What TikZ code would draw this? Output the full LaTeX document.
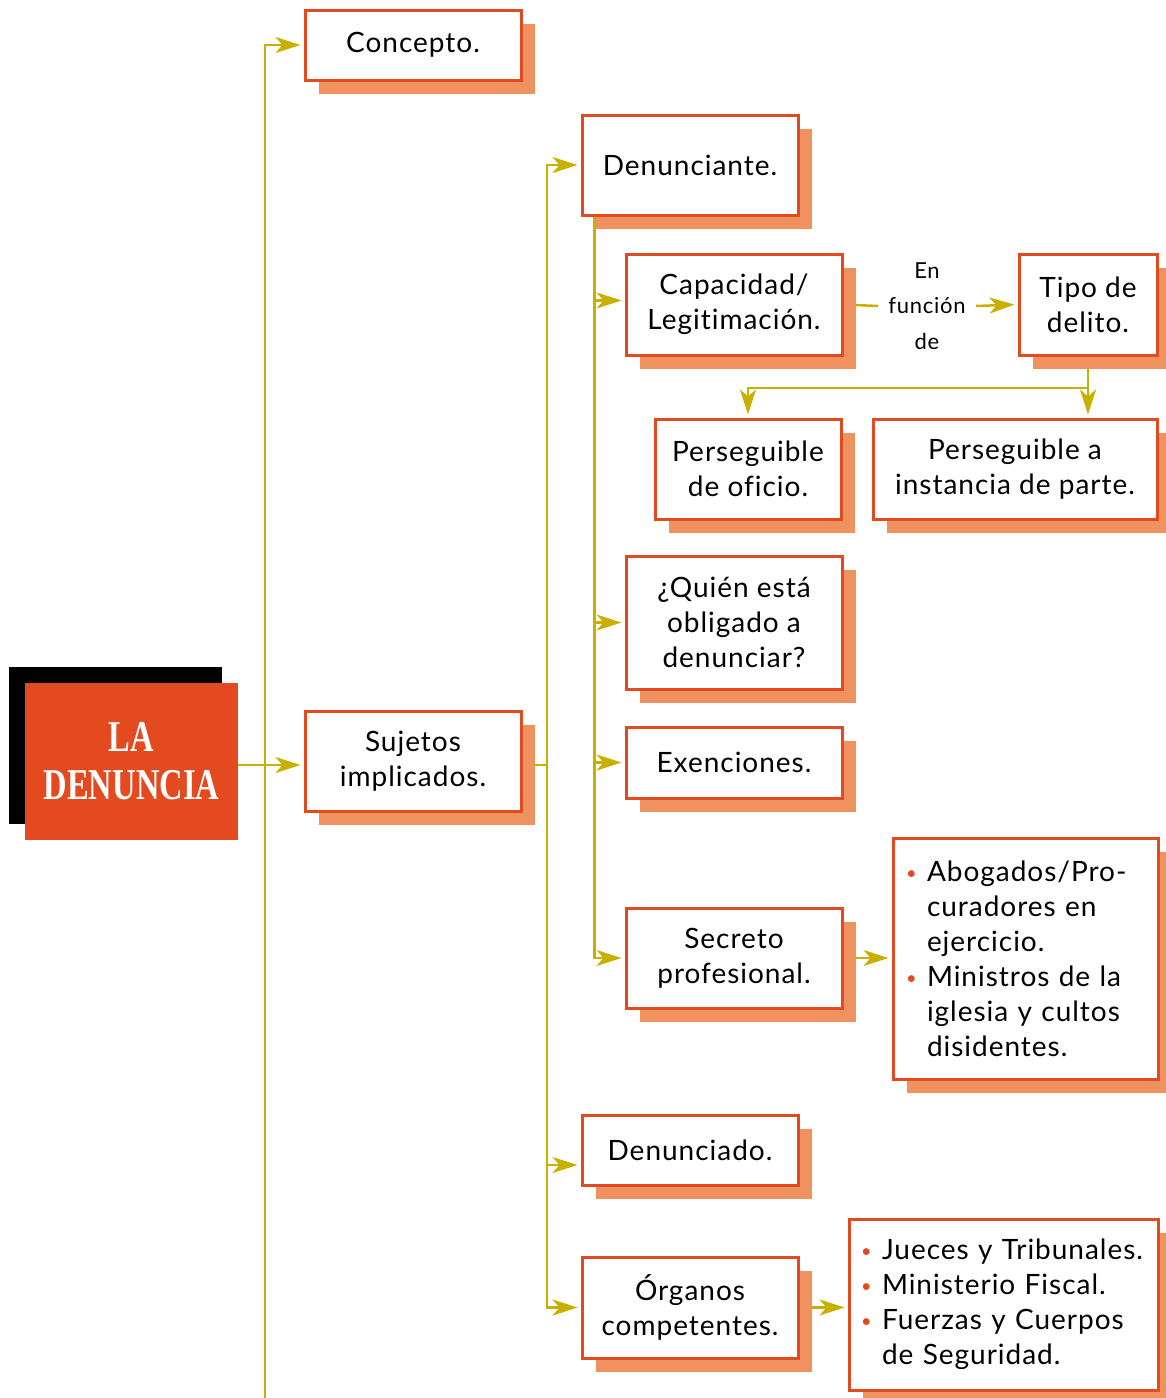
\documentclass[tikz,border=0pt]{standalone}
\usepackage{fontspec}
\setmainfont{Lato}[LetterSpace=3.5, Ligatures={NoCommon}]
\newfontfamily\letratitulo[FakeStretch=0.74]{Liberation Serif}
\usepackage{tikz}
\usetikzlibrary{arrows.meta,shadows,backgrounds}

\definecolor{rojo}{HTML}{E34A20}
\definecolor{sombra}{HTML}{F0925F}
\definecolor{oliva}{HTML}{C9AF00}

\tikzset{
	caja/.style={draw=rojo, line width=3pt, fill=white, align=center, inner sep=0pt,
		minimum width=216pt, minimum height=100pt,
		general shadow={fill=sombra, shadow xshift=14pt, shadow yshift=-14pt},
		font=\fontsize{28}{35}\selectfont},
	lista/.style={caja, align=left},
	linea/.style={draw=oliva, line width=2.5pt},
	flecha/.style={linea, -{Stealth[length=25pt, width=16pt, inset=7pt]}, shorten >=3pt},
}
\newcommand{\punto}{\makebox[21pt][l]{\textcolor{rojo}{\raisebox{2pt}{\scalebox{0.65}{\textbullet}}}}}
\newcommand{\sangria}{\hspace*{21pt}}

\begin{document}
\begin{tikzpicture}[x=1pt, y=-1pt]
	\useasboundingbox (0,0) rectangle (1166,1398);

	% Title
	\node (titulo) at (131.5,761.5) [fill=rojo, minimum width=213pt, minimum height=157pt, inner sep=0pt,
		general shadow={fill=black, shadow xshift=-16pt, shadow yshift=16pt},
		text=white, align=center, font=\letratitulo\bfseries\fontsize{44}{48}\selectfont] {LA\\DENUNCIA};

	% First level
	\node (concepto) at (413,45) [caja, minimum height=70pt] {Concepto.};
	\node (sujetos) at (413,761) [caja] {Sujetos\\implicados.};

	% Sujetos implicados
	\node (denunciante) at (690,165) [caja] {Denunciante.};
	\node (denunciado) at (690,1150) [caja, minimum height=70pt] {Denunciado.};
	\node (organos) at (690,1307.5) [caja, minimum height=101pt] {Órganos\\competentes.};
	\node (jueces) at (1003.5,1304.5) [lista, minimum width=309pt, minimum height=171pt,
		text width=285pt] {\punto Jueces y Tribunales.\\\punto Ministerio Fiscal.\\\punto Fuerzas y Cuerpos\\\sangria de Seguridad.};

	% Denunciante
	\node (capacidad) at (734,304.5) [caja, minimum height=101pt] {Capacidad/\\Legitimación.};
	\node (funcion) at (927,306) [align=center, inner xsep=10pt, font=\fontsize{22}{35.5}\selectfont] {En\\función\\de};
	\node (tipo) at (1088,304.5) [caja, minimum width=138pt, minimum height=101pt] {Tipo de\\delito.};
	\node (oficio) at (748,469) [caja, minimum width=186pt] {Perseguible\\de oficio.};
	\node (instancia) at (1015,469) [caja, minimum width=284pt] {Perseguible a\\instancia de parte.};
	\node (quien) at (734,622.5) [caja, minimum height=133pt] {¿Quién está\\obligado a\\denunciar?};
	\node (exenciones) at (734,762.5) [caja, minimum height=71pt] {Exenciones.};
	\node (secreto) at (734,958) [caja] {Secreto\\profesional.};
	\node (abogados) at (1025.5,958.5) [lista, minimum width=265pt, minimum height=241pt,
		text width=239pt] {\punto Abogados/Pro-\\\sangria curadores en\\\sangria ejercicio.\\\punto Ministros de la\\\sangria iglesia y cultos\\\sangria disidentes.};

	% Connectors
	\coordinate (tronco) at (265,1398);
	\coordinate (rama) at (547,765);
	\coordinate (cruce) at (1088,388);
	\begin{scope}[on background layer]
		\draw[flecha] (tronco) |- (concepto.west);
		\draw[flecha] (titulo.east |- rama) -- (sujetos.west |- rama);
		\draw[linea] (sujetos.east |- rama) -- (rama);
		\draw[flecha] (rama) |- (denunciante.west);
		\draw[flecha] (rama) |- ([yshift=-15pt]denunciado.west);
		\draw[flecha] (rama) |- (organos.west);
		\draw[flecha] (organos.east) -- (organos.east -| jueces.west);
		% Denunciante
		\draw[flecha] ([xshift=14pt]denunciante.south west) |- ([yshift=4pt]capacidad.west);
		\draw[flecha] ([xshift=14pt]denunciante.south west) |- (quien.west);
		\draw[flecha] ([xshift=14pt]denunciante.south west) |- (exenciones.west);
		\draw[flecha] ([xshift=14pt]denunciante.south west) |- (secreto.west);
		\draw[linea] (capacidad.east) -- (funcion.west);
		\draw[flecha] (funcion.east) -- (tipo.west);
		\draw[linea] (tipo.south) -- (cruce);
		\draw[flecha] (cruce) -| (oficio.north);
		\draw[flecha] (cruce) -- (cruce |- instancia.north);
		\draw[flecha] (secreto.east) -- (secreto.east -| abogados.west);
	\end{scope}
\end{tikzpicture}
\end{document}
